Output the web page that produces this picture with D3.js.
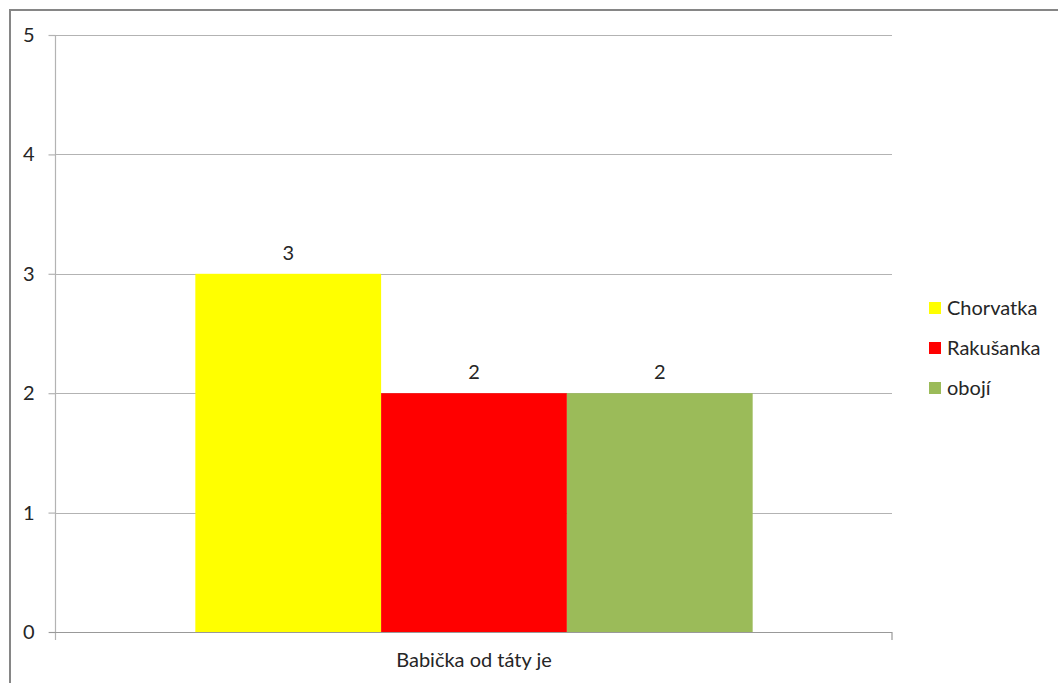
<!DOCTYPE html>
<html>
<head>
<meta charset="utf-8">
<script src="https://cdn.jsdelivr.net/npm/d3@7/dist/d3.min.js"></script>
<style>
  html, body { margin: 0; padding: 0; background: #fff; }
  svg { display: block; font-family: Lato, "Open Sans", sans-serif; }
</style>
</head>
<body>
<svg id="chart" width="1058" height="683"></svg>
<script>
// Category and series
const category = "Babička od táty je";
const seriesNames = ["Chorvatka", "Rakušanka", "obojí"];
const seriesValues = [3, 2, 2];
const seriesColors = ["#ffff00", "#ff0000", "#9bbb59"];
const yTicks = [0, 1, 2, 3, 4, 5];

const fontSize = 20;
const svg = d3.select("#chart");

// Chart frame
svg.append("rect")
  .attr("x", 10).attr("y", 10)
  .attr("width", 1060).attr("height", 690)
  .attr("fill", "#fff")
  .attr("stroke", "#868686").attr("stroke-width", 2);

const plot = { left: 56, right: 892, top: 35, bottom: 632 };

const y = d3.scaleLinear().domain([0, 5]).range([plot.bottom, plot.top]);
const xCat = d3.scaleBand().domain([category]).range([plot.left, plot.right]);
const xSeries = d3.scaleBand().domain(seriesNames)
  .range([0, xCat.bandwidth()]).paddingOuter(0.75).paddingInner(0);

// Gridlines
svg.append("g").selectAll("line")
  .data(yTicks.filter(d => d > 0))
  .join("line")
  .attr("x1", plot.left).attr("x2", plot.right)
  .attr("y1", d => Math.round(y(d)) + 0.5).attr("y2", d => Math.round(y(d)) + 0.5)
  .attr("stroke", "#b3b3b3").attr("stroke-width", 1.2);

// Y axis
const yAxis = svg.append("g")
  .attr("transform", `translate(${plot.left - 0.5},0)`)
  .call(d3.axisLeft(y).tickValues(yTicks).tickSize(7).tickPadding(14).tickFormat(d3.format("d")));
yAxis.select(".domain").remove();
yAxis.selectAll(".tick line").attr("stroke", "#b3b3b3").attr("stroke-width", 1.2);
yAxis.selectAll(".tick text").attr("font-size", fontSize).attr("fill", "#262626").attr("font-family", "Lato, sans-serif");
svg.append("line")
  .attr("x1", plot.left - 0.5).attr("x2", plot.left - 0.5)
  .attr("y1", plot.top).attr("y2", plot.bottom + 8)
  .attr("stroke", "#b3b3b3").attr("stroke-width", 1.2);

// Bars
const g = svg.append("g").attr("transform", `translate(${xCat(category)},0)`);
g.selectAll("rect")
  .data(seriesNames.map((n, i) => ({ name: n, value: seriesValues[i], color: seriesColors[i] })))
  .join("rect")
  .attr("x", d => xSeries(d.name))
  .attr("width", xSeries.bandwidth())
  .attr("y", d => y(d.value))
  .attr("height", d => y(0) - y(d.value))
  .attr("fill", d => d.color);

// Value labels
g.selectAll("text.val")
  .data(seriesNames.map((n, i) => ({ name: n, value: seriesValues[i] })))
  .join("text")
  .attr("class", "val")
  .attr("x", d => xSeries(d.name) + xSeries.bandwidth() / 2)
  .attr("y", d => y(d.value) - 14)
  .attr("text-anchor", "middle")
  .attr("font-size", fontSize).attr("fill", "#262626")
  .text(d => d.value);

// X axis
const xAxis = svg.append("g")
  .attr("transform", `translate(0,${plot.bottom + 0.5})`)
  .call(d3.axisBottom(xCat).tickSize(0).tickPadding(20));
xAxis.select(".domain").remove();
xAxis.selectAll(".tick text").attr("font-size", fontSize).attr("fill", "#262626").attr("font-family", "Lato, sans-serif");
svg.append("line")
  .attr("x1", plot.left - 7).attr("x2", plot.right)
  .attr("y1", plot.bottom + 0.5).attr("y2", plot.bottom + 0.5)
  .attr("stroke", "#999").attr("stroke-width", 1.2);
svg.append("line")
  .attr("x1", plot.right).attr("x2", plot.right)
  .attr("y1", plot.bottom).attr("y2", plot.bottom + 8)
  .attr("stroke", "#999").attr("stroke-width", 1.2);

// Legend
const legend = svg.append("g").attr("transform", "translate(929,302)");
const items = legend.selectAll("g").data(seriesNames).join("g")
  .attr("transform", (d, i) => `translate(0,${i * 40})`);
items.append("rect").attr("width", 12).attr("height", 12)
  .attr("fill", (d, i) => seriesColors[i]);
items.append("text").attr("x", 18).attr("y", 13)
  .attr("font-size", fontSize).attr("fill", "#262626").text(d => d);
</script>
</body>
</html>
